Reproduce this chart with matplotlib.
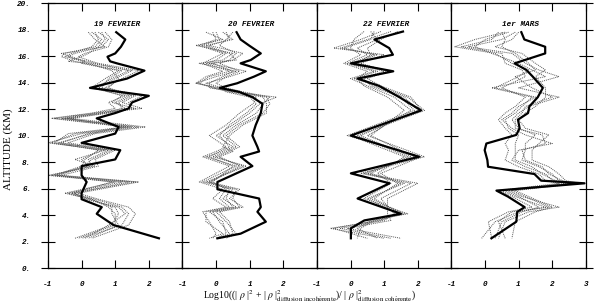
import numpy as np
import matplotlib
matplotlib.use("Agg")
import matplotlib.pyplot as plt

plt.rcParams['mathtext.fontset'] = 'stix'

titles = ["19 FEVRIER", "20 FEVRIER", "22 FEVRIER", "1er MARS"]

# 19 fevrier
alt1 = [17.8, 17.25, 16.7, 16.2, 15.95, 15.6, 15.45, 14.9, 14.3, 13.6, 13.0, 12.5, 12.05, 11.7, 11.3,
        10.65, 10.15, 9.45, 8.9, 8.2, 7.7, 7.0, 6.5, 5.65, 5.2, 4.6, 4.1, 3.25, 2.25]
thick1 = [1.03, 1.30, 1.17, 1.0, 0.77, 0.85, 1.05, 1.87, 1.35, 0.25, 2.0, 1.5, 1.4, 1.0, 0.45,
          1.1, 1.0, 0.0, 1.15, 1.0, 0.0, 0.0, 0.15, 0.0, 0.0, 0.6, 0.45, 0.95, 2.3]
dots1 = [
    [0.5, 0.8, 0.6, -0.2, -0.4, 0.0, 0.3, 1.5, 1.0, 0.5, 1.6, 1.2, 1.8, 0.6, -0.6, 1.7, 0.2, -0.6, 0.8, 0.2, 0.3, -0.8, 1.6, -0.3, 0.4, 1.2, 1.4, 1.2, 0.0],
    [0.3, 0.6, 0.4, -0.5, -0.6, -0.2, 0.1, 1.2, 0.8, 0.6, 1.4, 1.0, 1.3, 0.4, -0.8, 1.4, -0.2, -0.9, 0.6, 0.0, 0.2, -0.9, 1.2, -0.4, 0.2, 1.0, 1.1, 0.9, -0.2],
    [0.7, 0.9, 0.8, 0.1, -0.1, 0.3, 0.5, 1.7, 1.2, 0.7, 1.8, 1.4, 1.5, 0.8, -0.3, 1.9, 0.4, -0.4, 1.0, 0.4, 0.5, -0.6, 1.7, -0.1, 0.5, 1.4, 1.6, 1.4, 0.3],
    [0.4, 0.5, 0.3, -0.3, -0.5, 0.2, 0.4, 1.4, 0.9, 0.4, 1.2, 0.9, 1.6, 0.5, -0.5, 1.5, 0.0, -1.0, 0.7, -0.2, 0.4, -1.0, 1.0, -0.5, 0.3, 0.9, 0.9, 1.1, 0.2],
    [0.6, 0.7, 0.5, 0.2, 0.0, -0.4, 0.2, 0.9, 1.1, 0.8, 1.5, 1.1, 1.2, 0.7, -0.4, 1.2, 0.3, -0.7, 0.9, 0.3, 0.1, -0.7, 1.4, -0.2, 0.1, 1.1, 1.3, 0.8, 0.1],
    [0.2, 0.4, 0.7, -0.6, -0.3, 0.1, 0.0, 1.1, 0.7, 0.3, 1.3, 0.8, 1.0, 0.3, -0.9, 1.3, -0.4, -0.8, 0.5, 0.1, 0.0, -0.8, 0.9, -0.3, 0.3, 0.8, 1.0, 1.0, -0.1],
]

# 20 fevrier
alt2 = [17.8, 17.25, 16.8, 16.2, 15.7, 15.45, 14.85, 14.45, 13.95, 13.6, 13.3, 12.9, 12.4, 11.7,
        10.8, 10.0, 9.15, 8.8, 8.4, 7.7, 6.5, 5.95, 5.25, 4.6, 4.25, 3.5, 2.6, 2.25]
thick2 = [0.61, 0.73, 0.98, 1.33, 1.03, 0.73, 1.48, 1.13, 0.63, 0.11, 0.68, 1.08, 1.38, 1.33,
          1.18, 1.08, 1.23, 1.28, 0.73, 1.08, 0.04, 0.04, 1.28, 1.33, 1.23, 1.48, 0.73, 0.04]
dots2 = [
    [-0.3, 0.2, -0.6, 0.5, 0.2, -0.5, 0.6, 0.0, -0.6, 0.0, 0.5, 1.8, 1.3, 1.0, 0.5, 0.0, 0.5, 0.2, -0.3, 0.6, -0.4, 0.5, 0.2, 0.6, -0.2, 0.2, 0.3, 0.0],
    [0.3, 0.4, -0.2, 0.8, 0.5, -0.2, 0.9, 0.4, -0.3, 0.2, 0.7, 1.5, 1.6, 1.4, 0.7, 0.3, 0.7, 0.4, 0.0, 0.8, -0.2, 0.7, 0.4, 0.8, 0.1, 0.4, 0.5, 0.2],
    [0.0, 0.1, -0.4, 0.3, 0.0, -0.3, 0.4, -0.2, -0.5, -0.1, 0.4, 1.2, 1.1, 0.7, 0.3, -0.2, 0.3, 0.0, -0.4, 0.4, -0.5, 0.2, -0.1, 0.3, -0.4, -0.2, 0.0, -0.1],
    [0.5, 0.3, 0.1, 0.6, 0.4, 0.1, 0.7, 0.3, 0.0, 0.3, 0.8, 1.6, 1.4, 1.2, 0.6, 0.2, 0.6, 0.3, -0.1, 0.9, -0.3, 0.6, 0.5, 0.7, 0.0, 0.3, 0.6, 0.3],
    [-0.1, 0.0, -0.5, 0.2, -0.2, -0.4, 0.2, -0.3, -0.6, 0.1, 0.3, 1.0, 1.2, 0.9, 0.4, 0.1, 0.4, 0.1, -0.2, 0.5, -0.1, 0.3, 0.1, 0.4, -0.3, -0.3, 0.2, -0.2],
    [0.2, 0.5, -0.3, 0.4, 0.6, -0.1, 0.5, 0.2, -0.2, -0.2, 0.6, 1.4, 1.5, 1.5, 0.8, 0.4, 0.2, 0.5, 0.1, 0.7, -0.2, 0.4, 0.3, 0.5, -0.1, 0.1, 0.4, 0.1],
]

# 22 fevrier
alt3 = [17.85, 17.25, 16.6, 16.1, 15.45, 14.85, 14.3, 13.75, 12.9, 11.9, 10.0, 8.4, 7.15, 6.4,
        5.25, 4.1, 3.6, 3.0, 2.25]
thick3 = [1.56, 0.71, 1.15, 1.26, 0.01, 1.27, 0.21, 0.85, 1.45, 2.1, 0.01, 2.04, 0.01, 1.16,
          0.21, 1.5, 0.41, 0.01, 0.01]
dots3 = [
    [1.2, 0.5, -0.3, 0.8, 0.1, 1.0, 0.3, 0.7, 1.6, 2.0, 0.3, 1.8, 0.5, 1.5, 0.6, 1.6, 0.8, -0.5, 0.5],
    [0.6, 0.8, 0.2, 0.5, -0.1, 0.7, 0.0, 0.5, 1.3, 1.8, 0.5, 2.2, 0.3, 1.8, 0.9, 1.3, 1.0, -0.3, 1.2],
    [0.9, 0.3, -0.5, 1.0, 0.3, 1.1, 0.5, 0.9, 1.8, 2.1, 0.0, 1.6, 0.8, 1.2, 0.4, 1.7, 0.6, 0.2, 0.8],
    [0.4, 0.1, 0.0, 0.3, -0.2, 0.5, 0.2, 0.4, 1.1, 1.6, 0.6, 1.9, 0.4, 2.0, 1.1, 1.1, 1.2, -0.1, 1.5],
    [1.4, 0.9, 0.5, 0.6, 0.2, 1.2, 0.4, 0.6, 1.5, 1.9, -0.1, 2.1, 0.9, 1.4, 0.7, 1.5, 0.7, 0.3, 0.2],
    [0.7, 0.6, -0.2, 0.7, 0.0, 0.8, 0.1, 0.8, 1.7, 2.2, 0.2, 1.7, 0.6, 1.6, 0.5, 1.4, 0.9, -0.6, 1.0],
]

# 1er mars
alt4 = [17.8, 17.25, 16.7, 16.2, 15.45, 14.95, 14.45, 13.6, 12.9, 12.2, 11.7, 11.2, 10.55, 10.05,
        9.4, 8.9, 8.15, 7.65, 7.1, 6.6, 6.4, 5.85, 5.4, 4.6, 4.25, 3.5, 2.25]
thick4 = [1.08, 1.17, 1.79, 1.79, 0.88, 1.23, 1.42, 1.72, 1.57, 1.32, 1.28, 0.98, 1.03, 0.93,
          0.04, -0.01, 0.07, 0.09, 1.47, 1.67, 2.96, 0.34, 0.68, 1.18, 0.96, 0.93, 0.19]
dots4 = [
    [0.6, -0.3, -0.9, 0.3, 0.8, 1.3, 1.0, 0.3, 1.5, 1.0, 0.8, 0.5, 0.8, 1.2, 2.0, 1.0, 0.8, 1.2, 1.8, 2.0, 2.5, 0.5, 0.9, 1.8, 1.0, 0.3, -0.1],
    [0.9, 0.5, -0.5, 0.8, 1.2, 1.6, 2.2, 1.0, 2.2, 1.3, 1.0, 0.8, 1.0, 1.5, 1.2, 1.2, 1.1, 1.6, 2.0, 2.2, 2.7, 0.7, 1.1, 2.2, 1.3, 0.6, 0.4],
    [0.4, 0.2, -0.7, 0.5, 0.6, 1.1, 1.2, 0.5, 1.2, 0.9, 0.6, 0.4, 0.6, 0.8, 0.6, 0.7, 0.6, 1.0, 1.6, 1.8, 2.2, 0.4, 0.8, 1.4, 0.7, 0.1, 0.2],
    [1.0, 0.8, 0.3, 1.1, 1.5, 1.8, 1.5, 1.8, 1.8, 1.5, 1.2, 1.0, 1.2, 1.9, 1.6, 1.4, 1.4, 1.9, 2.2, 2.4, 2.8, 0.9, 1.3, 2.0, 1.5, 0.9, 0.8],
    [0.7, 0.0, -0.3, 0.2, 1.0, 1.4, 1.8, 0.2, 1.4, 1.1, 0.9, 0.6, 0.7, 1.0, 0.9, 0.9, 0.9, 1.4, 1.7, 2.1, 2.4, 0.6, 1.0, 1.6, 1.1, 0.5, 0.3],
    [0.5, 0.6, 0.5, 0.9, 1.3, 1.5, 0.9, 1.4, 2.0, 1.2, 1.1, 0.9, 0.9, 1.7, 1.8, 1.1, 1.2, 1.7, 1.9, 2.3, 2.6, 0.8, 1.2, 1.9, 0.8, 0.4, 0.6],
]

alts = [alt1, alt2, alt3, alt4]
thicks = [thick1, thick2, thick3, thick4]
dots = [dots1, dots2, dots3, dots4]

tickfont = dict(family='Liberation Mono', style='italic', weight='bold', size=5.5)

fig = plt.figure(figsize=(5.96, 3.04), dpi=100)
left, right, bottom, top = 0.0805, 0.983, 0.118, 0.990
w = (right - left) / 4

for i in range(4):
    ax = fig.add_axes([left + i * w, bottom, w, top - bottom])
    for d in dots[i]:
        ax.plot(d, alts[i], color='#555555', lw=0.7, ls=(0, (1, 1)))
    ax.plot(thicks[i], alts[i], color='black', lw=1.6)
    ax.text(1.05, 18.4, titles[i], ha='center', va='center', fontdict=tickfont)

    ax.set_xlim(-1, 3)
    ax.set_ylim(0, 20)
    for s in ax.spines.values():
        s.set_linewidth(0.9)

    # x ticks
    ax.set_xticks([-1, 0, 1, 2, 3])
    labels = ['-1', '0', '1', '2', '3' if i == 3 else '']
    ax.set_xticklabels(labels, fontdict=tickfont)
    ax.tick_params(axis='x', direction='in', top=True, length=6, width=0.8, pad=9)

    # y ticks
    ax.set_yticks(np.arange(0, 21, 2))
    ax.tick_params(axis='y', direction='inout', length=10, width=0.8, right=(i == 3))
    if i == 0:
        ax.set_yticklabels(['%d.' % v for v in range(0, 21, 2)], fontdict=tickfont)
        ax.tick_params(axis='y', pad=7)
    else:
        ax.set_yticklabels([])

fig.text(0.013, 0.51, 'ALTITUDE (KM)', rotation=90, ha='center', va='center',
         family='Liberation Serif', fontsize=8)
fig.text(0.52, 0.025,
         r"Log10((| $\rho$ |$^2$ + | $\rho$ |$^2_{\mathrm{diffusion\ incoh\acute{e}rente}}$)/ | $\rho$ |$^2_{\mathrm{diffusion\ coh\acute{e}rente}}$)",
         ha='center', va='center', family='Liberation Serif', fontsize=7)

fig.savefig('out.png', dpi=100)
